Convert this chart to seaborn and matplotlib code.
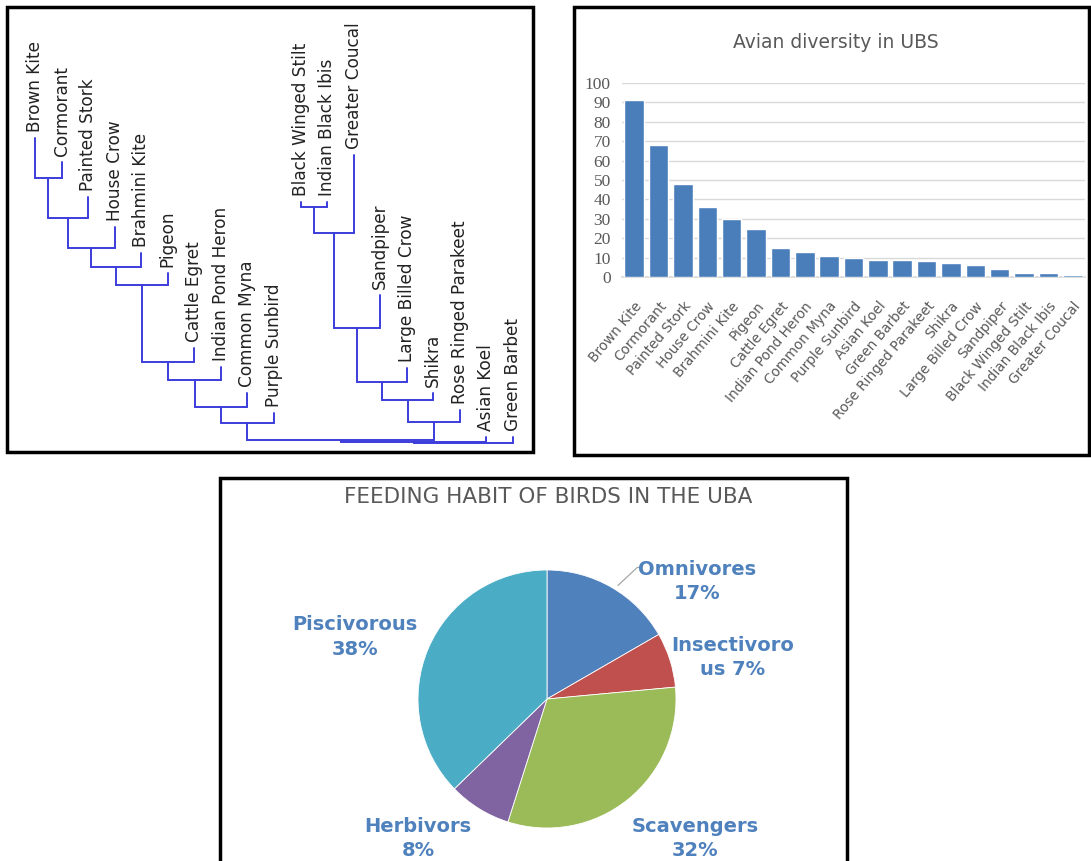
#%% Pacotes
import matplotlib
matplotlib.use("Agg")
import matplotlib.pyplot as plt
from matplotlib.patches import Rectangle
import seaborn as sns
import pandas as pd
import numpy as np

sns.set_theme(style="white")
plt.rcParams['font.family'] = ['DejaVu Sans']

#%% Dados - dendrograma (ordem das folhas, altura das pontas, fusoes)
dendro_leaves = ['Brown Kite', 'Cormorant', 'Painted Stork', 'House Crow', 'Brahmini Kite',
                 'Pigeon', 'Cattle Egret', 'Indian Pond Heron', 'Common Myna', 'Purple Sunbird',
                 'Black Winged Stilt', 'Indian Black Ibis', 'Greater Coucal', 'Sandpiper',
                 'Large Billed Crow', 'Shikra', 'Rose Ringed Parakeet', 'Asian Koel', 'Green Barbet']
leaf_tips = [307, 283, 248, 218, 192, 172, 97, 78, 52, 32, 243, 243, 290, 150, 77, 52, 35, 8, 8]
# (filho esquerdo, filho direito, altura) - novos grupos recebem indice 19, 20, ...
merge_left = [0, 19, 20, 21, 22, 23, 24, 25, 26, 10, 28, 29, 30, 31, 32, 27, 34, 35]
merge_right = [1, 2, 3, 4, 5, 6, 7, 8, 9, 11, 12, 13, 14, 15, 16, 33, 17, 18]
merge_height = [267, 227, 197, 178, 160, 83, 65, 38, 22, 238, 212, 117, 63, 45, 23, 5, 3, 2]

#%% Dados - barras
bird_names = ['Brown Kite', 'Cormorant', 'Painted Stork', 'House Crow', 'Brahmini Kite', 'Pigeon',
              'Cattle Egret', 'Indian Pond Heron', 'Common Myna', 'Purple Sunbird', 'Asian Koel',
              'Green Barbet', 'Rose Ringed Parakeet', 'Shikra', 'Large Billed Crow', 'Sandpiper',
              'Black Winged Stilt', 'Indian Black Ibis', 'Greater Coucal']
bird_counts = [91, 68, 48, 36, 30, 25, 15, 13, 11, 10, 9, 9, 8, 7, 6, 4, 2, 2, 1]

#%% Dados - pizza
habit_labels = ['Omnivores', 'Insectivoro\nus', 'Scavengers', 'Herbivors', 'Piscivorous']
habit_pct = [17, 7, 32, 8, 38]
habit_colors = ['#4f81bd', '#c0504d', '#9bbb59', '#8064a2', '#4bacc6']

W, H = 1091, 861
fig = plt.figure(figsize=(W / 100, H / 100), dpi=100)
fig.patch.set_facecolor('white')


def caixa(x0, y0, x1, y1):
    # converte caixa em pixels (origem no topo) para fracao da figura
    return [x0 / W, 1 - y1 / H, (x1 - x0) / W, (y1 - y0) / H]


def moldura(x0, y0, x1, y1):
    r = Rectangle((x0 / W, 1 - y1 / H), (x1 - x0) / W, (y1 - y0) / H,
                  transform=fig.transFigure, fill=False, edgecolor='black', linewidth=2.5)
    fig.patches.append(r)


moldura(7, 7, 533, 452)
moldura(574, 7, 1089, 455)
moldura(220, 478, 847, 875)

#%% Dendrograma
azul = '#3c3cdc'
ax_d = fig.add_axes(caixa(35, 138, 513, 445))
ax_d.set_xlim(0, 18)
ax_d.set_ylim(0, 307)
ax_d.axis('off')

pos_x = {i: float(i) for i in range(len(dendro_leaves))}
pos_h = {i: float(h) for i, h in enumerate(leaf_tips)}
n = len(dendro_leaves)
for k, (a, b, h) in enumerate(zip(merge_left, merge_right, merge_height)):
    for c in (a, b):
        ax_d.plot([pos_x[c], pos_x[c]], [pos_h[c], h], color=azul, lw=1.4, clip_on=False)
    ax_d.plot([pos_x[a], pos_x[b]], [h, h], color=azul, lw=1.4, clip_on=False)
    pos_x[n + k] = (pos_x[a] + pos_x[b]) / 2
    pos_h[n + k] = h

for i, nome in enumerate(dendro_leaves):
    ax_d.text(i, leaf_tips[i] + 6, nome, rotation=90, ha='center', va='bottom',
              fontsize=12.2, color='#222222', clip_on=False)

#%% Barras
ax_b = fig.add_axes(caixa(622, 83, 1085, 277))
df_bar = pd.DataFrame({'ave': bird_names, 'n': bird_counts})
sns.barplot(data=df_bar, x='ave', y='n', color='#4a7ebb', width=0.8, saturation=1, ax=ax_b)
ax_b.set_ylim(0, 100)
ax_b.set_xlim(-0.5, len(bird_names) - 0.5)
ax_b.set_yticks(np.arange(0, 101, 10))
ax_b.yaxis.grid(True, color='#d9d9d9', linewidth=1)
ax_b.set_axisbelow(True)
for s in ['top', 'right', 'left']:
    ax_b.spines[s].set_visible(False)
ax_b.spines['bottom'].set_color('#d9d9d9')
ax_b.spines['bottom'].set_zorder(0.5)
ax_b.set_xlabel('')
ax_b.set_ylabel('')
ax_b.tick_params(axis='both', length=0)
ax_b.tick_params(axis='y', pad=8)
ax_b.tick_params(axis='x', pad=16)
for t in ax_b.get_yticklabels():
    t.set_fontfamily('Liberation Serif')
    t.set_fontsize(12.5)
    t.set_color('#595959')
ax_b.set_xticks(range(len(bird_names)))
ax_b.set_xticklabels(bird_names, rotation=50, ha='right', rotation_mode='anchor',
                     fontsize=9.8, color='#595959')
fig.text(836 / W, 1 - 42 / H, 'Avian diversity in UBS', ha='center', va='center',
         fontsize=13.5, color='#595959')

#%% Pizza
ax_p = fig.add_axes(caixa(418, 570, 676, 828))
ax_p.pie(habit_pct, colors=habit_colors, startangle=90, counterclock=False,
         wedgeprops=dict(edgecolor='white', linewidth=0.6))
ax_p.set_xlim(-1, 1)
ax_p.set_ylim(-1, 1)
ax_p.set_aspect('equal')

pos_rotulos = [(1.16, 0.91), (1.44, 0.32), (1.15, -1.08), (-1.0, -1.08), (-1.49, 0.48)]
for lab, pct, (px, py) in zip(habit_labels, habit_pct, pos_rotulos):
    sep = ' ' if '\n' in lab else '\n'
    ax_p.text(px, py, f'{lab}{sep}{pct}%', ha='center', va='center', fontsize=14,
              fontweight='bold', color='#4f81bd', linespacing=1.35, clip_on=False)

# linha guia dos Omnivores
ax_p.plot([0.55, 0.70, 0.73], [0.88, 1.02, 1.02], color='#a6a6a6', lw=0.9, clip_on=False)

fig.text(548 / W, 1 - 497 / H, 'FEEDING HABIT OF BIRDS IN THE UBA', ha='center', va='center',
         fontsize=15.5, color='#595959')

fig.savefig('out.png', dpi=100, facecolor='white')
